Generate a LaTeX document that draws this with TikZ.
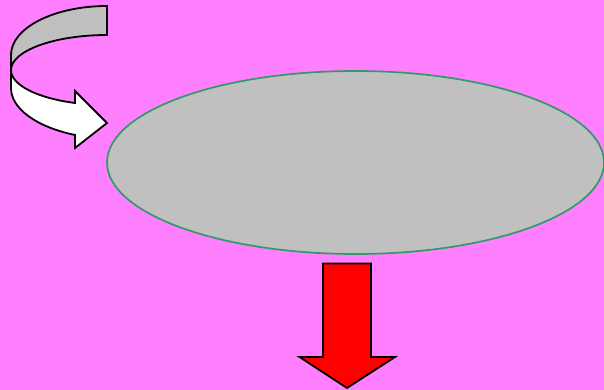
\documentclass[tikz,border=0pt]{standalone}
\usetikzlibrary{shapes.geometric}
\definecolor{bgmag}{RGB}{255,128,255}
\definecolor{ellgray}{RGB}{192,192,192}
\definecolor{ellgreen}{RGB}{51,153,102}
\tikzset{
  shapeline/.style={draw=black, line width=1.8pt, line join=miter},
  bigellipse/.style={ellipse, draw=ellgreen, fill=ellgray, line width=1.7pt, inner sep=0pt,
     minimum width=497pt, minimum height=183pt},
}
\begin{document}
\begin{tikzpicture}[x=1pt,y=-1pt]
\fill[bgmag] (0,0) rectangle (604,390);
\useasboundingbox (0,0) rectangle (604,390);
% ellipse
\node[bigellipse] (ell) at (355.5,162.5) {};
% curved arrow: grey back part
\draw[shapeline, fill=ellgray] (107,6) .. controls (54,6) and (11,28) .. (11,55)
  -- (11,70) .. controls (11,51) and (54,35) .. (107,35) -- cycle;
% curved arrow: white front part
\draw[shapeline, fill=white] (11,70) -- (11,88) .. controls (11,109) and (37,127) .. (75,135)
  -- (75,148) -- (107,123) -- (75,91) -- (75,103)
  .. controls (37,98) and (11,85) .. (11,70) -- cycle;
% down arrow
\draw[shapeline, fill=red] (323,263.5) -- (371,263.5) -- (371,357) -- (395,357)
  -- (347,388) -- (299.5,357) -- (323,357) -- cycle;
\end{tikzpicture}
\end{document}
